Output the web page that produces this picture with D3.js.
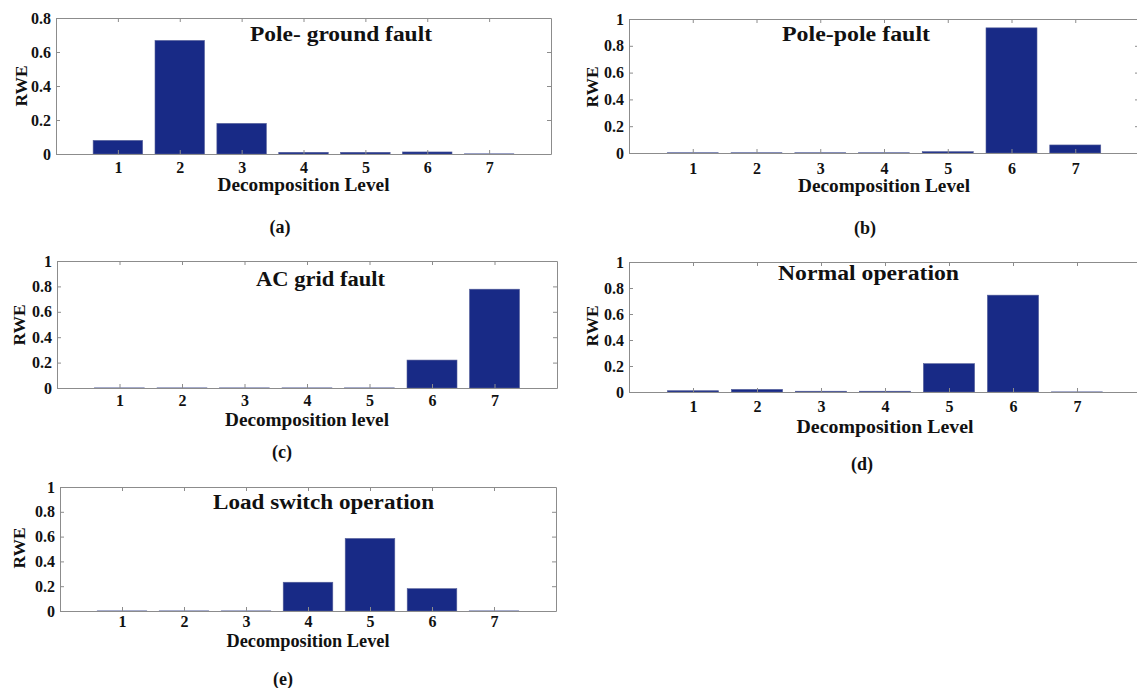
<!DOCTYPE html>
<html>
<head>
<meta charset="utf-8">
<script src="https://cdn.jsdelivr.net/npm/d3@7"></script>
<style>
  html, body { margin: 0; padding: 0; background: #fff; }
  svg { display: block; }
  text { font-family: "Liberation Serif", "Times New Roman", serif; font-weight: bold; fill: #111; }
</style>
</head>
<body>
<svg id="chart" width="1137" height="688"></svg>
<script>
// Relative wavelet energy (RWE) per decomposition level
const levels = [1, 2, 3, 4, 5, 6, 7];
const poleGround = [0.08, 0.668, 0.18, 0.01, 0.01, 0.012, 0.001];
const polePole = [0.002, 0.002, 0.002, 0.002, 0.01, 0.934, 0.06];
const acGrid = [0.001, 0.001, 0.001, 0.001, 0.001, 0.22, 0.778];
const normalOp = [0.01, 0.02, 0.006, 0.006, 0.218, 0.745, 0.001];
const loadSwitch = [0.001, 0.001, 0.001, 0.232, 0.585, 0.18, 0.001];
const yTicksShort = [0, 0.2, 0.4, 0.6, 0.8];
const yTicksFull = [0, 0.2, 0.4, 0.6, 0.8, 1];
const panelTitles = ["Pole- ground fault", "Pole-pole fault", "AC grid fault", "Normal operation", "Load switch operation"];
const panelTags = ["(a)", "(b)", "(c)", "(d)", "(e)"];
const xLabels = ["Decomposition Level", "Decomposition Level", "Decomposition level", "Decomposition Level", "Decomposition Level"];

const svg = d3.select("#chart");
const axisColor = "#8c8c8c";
const barColor = "#182a86";

// Layout of each subplot box and its text
const panels = [
  { values: poleGround, ticks: yTicksShort, ymax: 0.8, x0: 56, x1: 551, yTop: 18, yZero: 154,
    title: { x: 250, y: 41, w: 182 }, xlab: { y: 191, w: 172 }, tickY: 20, tag: { x: 280, y: 233 }, rwe: { x: 21, y: 86 } },
  { values: polePole, ticks: yTicksFull, ymax: 1, x0: 629, x1: 1139, yTop: 19, yZero: 153,
    title: { x: 782, y: 41, w: 148 }, xlab: { y: 192, w: 172 }, tickY: 22, tag: { x: 865, y: 234 }, rwe: { x: 592, y: 87 } },
  { values: acGrid, ticks: yTicksFull, ymax: 1, x0: 57, x1: 557, yTop: 261, yZero: 388,
    title: { x: 256, y: 286, w: 129 }, xlab: { y: 426, w: 164 }, tickY: 19, tag: { x: 282, y: 458 }, rwe: { x: 19, y: 325 } },
  { values: normalOp, ticks: yTicksFull, ymax: 1, x0: 629, x1: 1141, yTop: 262, yZero: 392,
    title: { x: 778, y: 280, w: 181 }, xlab: { y: 433, w: 177 }, tickY: 21, tag: { x: 862, y: 470 }, rwe: { x: 592, y: 326 } },
  { values: loadSwitch, ticks: yTicksFull, ymax: 1, x0: 60, x1: 556, yTop: 487, yZero: 611,
    title: { x: 213, y: 509, w: 221 }, xlab: { y: 647, w: 163 }, tickY: 17, tag: { x: 283, y: 685 }, rwe: { x: 19, y: 548 } }
];

const fmt = d => String(+d.toFixed(1));

panels.forEach((p, i) => {
  const g = svg.append("g");
  const x = d3.scaleLinear().domain([0, 8]).range([p.x0, p.x1]);
  const y = d3.scaleLinear().domain([0, p.ymax]).range([p.yZero, p.yTop]);
  const bw = (x(1) - x(0)) * 0.8;

  // bars
  g.selectAll("rect.bar").data(levels).join("rect")
    .attr("class", "bar")
    .attr("x", d => x(d) - bw / 2)
    .attr("width", bw)
    .attr("y", (d, k) => y(p.values[k]))
    .attr("height", (d, k) => y(0) - y(p.values[k]))
    .attr("fill", barColor)
    .attr("stroke", "#56609a")
    .attr("stroke-width", 0.6);

  // box axes with inward ticks
  const styleAxis = sel => {
    sel.attr("font-family", null);
    sel.selectAll("path.domain").attr("stroke", axisColor);
    sel.selectAll(".tick line").attr("stroke", axisColor);
    sel.selectAll(".tick text").attr("fill", "#111");
  };
  g.append("g").attr("transform", `translate(0,${p.yZero})`)
    .call(d3.axisBottom(x).tickValues(levels).tickFormat(d3.format("d")).tickSizeInner(-4).tickSizeOuter(0).tickPadding(p.tickY - 12))
    .call(styleAxis).attr("font-size", 16);
  g.append("g").attr("transform", `translate(0,${p.yTop})`)
    .call(d3.axisTop(x).tickValues(levels).tickFormat("").tickSizeInner(-4).tickSizeOuter(0))
    .call(styleAxis);
  g.append("g").attr("transform", `translate(${p.x0},0)`)
    .call(d3.axisLeft(y).tickValues(p.ticks).tickFormat(fmt).tickSizeInner(-4).tickSizeOuter(0).tickPadding(5))
    .call(styleAxis).attr("font-size", 16);
  g.append("g").attr("transform", `translate(${p.x1},0)`)
    .call(d3.axisRight(y).tickValues(p.ticks).tickFormat("").tickSizeInner(-4).tickSizeOuter(0))
    .call(styleAxis);

  // subplot title
  g.append("text")
    .attr("x", p.title.x).attr("y", p.title.y)
    .attr("font-size", 20)
    .attr("textLength", p.title.w).attr("lengthAdjust", "spacingAndGlyphs")
    .text(panelTitles[i]);

  // x-axis label
  g.append("text")
    .attr("x", (p.x0 + p.x1) / 2 - p.xlab.w / 2).attr("y", p.xlab.y)
    .attr("font-size", 18)
    .attr("textLength", p.xlab.w).attr("lengthAdjust", "spacingAndGlyphs")
    .text(xLabels[i]);

  // y-axis label
  g.append("text")
    .attr("transform", `translate(${p.rwe.x + 6},${p.rwe.y}) rotate(-90)`)
    .attr("text-anchor", "middle")
    .attr("font-size", 17.5)
    .text("RWE");

  // subplot tag
  g.append("text")
    .attr("x", p.tag.x).attr("y", p.tag.y)
    .attr("text-anchor", "middle")
    .attr("font-size", 18)
    .text(panelTags[i]);
});
</script>
</body>
</html>
